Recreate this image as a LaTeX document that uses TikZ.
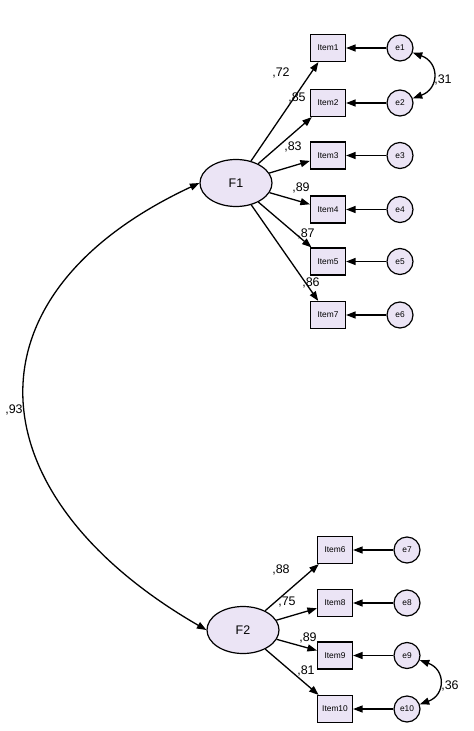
\documentclass[tikz,border=0pt]{standalone}
\usepackage{fontspec}
\setmainfont{Liberation Sans}
\usetikzlibrary{arrows.meta,shapes.geometric}
\definecolor{amosfill}{RGB}{235,228,245}

\begin{document}
\begin{tikzpicture}[x=1bp,y=1bp,
  lat/.style={ellipse,draw,line width=1.2bp,fill=amosfill,minimum width=72bp,minimum height=47bp,inner sep=0pt,font=\fontsize{12.5}{13}\selectfont},
  obs/.style={rectangle,draw,line width=1.2bp,fill=amosfill,minimum width=35bp,minimum height=27bp,inner sep=0pt,font=\fontsize{8.4}{9}\selectfont},
  err/.style={circle,draw,line width=1.2bp,fill=amosfill,minimum size=26bp,inner sep=0pt,font=\fontsize{8.4}{9}\selectfont},
  load/.style={line width=1.3bp,-{Triangle[length=9.5bp,width=7bp]}},
  cov/.style={line width=1.3bp,{Triangle[length=9.5bp,width=7bp]}-{Triangle[length=9.5bp,width=7bp]}},
  lbl/.style={font=\fontsize{12.5}{13}\selectfont,inner sep=0pt}]
\useasboundingbox (0,0) rectangle (474,-731);

\node[lat] (F1) at (236,-183) {F1};
\node[obs] (I1) at (328,-48) {Item1}; \node[err] (e1) at (400,-48) {e1};
\node[obs] (I2) at (328,-103) {Item2}; \node[err] (e2) at (400,-103) {e2};
\node[obs] (I3) at (328,-155.5) {Item3}; \node[err] (e3) at (400,-155.5) {e3};
\node[obs] (I4) at (328,-209.5) {Item4}; \node[err] (e4) at (400,-209.5) {e4};
\node[obs] (I5) at (328,-261.5) {Item5}; \node[err] (e5) at (400,-261.5) {e5};
\node[obs] (I7) at (328,-315) {Item7}; \node[err] (e6) at (400,-315) {e6};

\node[lat] (F2) at (243,-630) {F2};
\node[obs] (I6) at (335,-550) {Item6}; \node[err] (e7) at (407,-550) {e7};
\node[obs] (I8) at (335,-603) {Item8}; \node[err] (e8) at (407,-603) {e8};
\node[obs] (I9) at (335,-655.5) {Item9}; \node[err] (e9) at (407,-655.5) {e9};
\node[obs] (I10) at (335,-709) {Item10}; \node[err] (e10) at (407,-709) {e10};

\draw[load] (F1)--(I1); \draw[load] (F1)--(I2); \draw[load] (F1)--(I3);
\draw[load] (F1)--(I4); \draw[load] (F1)--(I5); \draw[load] (F1)--(I7);
\draw[load] (F2)--(I6); \draw[load] (F2)--(I8); \draw[load] (F2)--(I9); \draw[load] (F2)--(I10);
\draw[load] (e1)--(I1); \draw[load] (e2)--(I2); \draw[load] (e3)--(I3);
\draw[load] (e4)--(I4); \draw[load] (e5)--(I5); \draw[load] (e6)--(I7);
\draw[load] (e7)--(I6); \draw[load] (e8)--(I8); \draw[load] (e9)--(I9); \draw[load] (e10)--(I10);

\draw[cov] (e1) to[out=-20,in=20,looseness=1.6] (e2);
\draw[cov] (e9) to[out=-20,in=20,looseness=1.6] (e10);
\draw[cov] (F1.west) to[out=205,in=150,looseness=1.53] (F2.west);

\node[lbl] (l72) at (281,-73) {,72};
\node[lbl] (l85) at (297,-98) {,85};
\node[lbl] (l83) at (293,-147) {,83};
\node[lbl] (l89a) at (301,-188) {,89};
\node[lbl] (l87) at (306,-234) {,87};
\node[lbl] (l86) at (311,-283) {,86};
\node[lbl] (l88) at (281,-570) {,88};
\node[lbl] (l75) at (287,-602) {,75};
\node[lbl] (l89b) at (308,-638) {,89};
\node[lbl] (l81) at (306,-671) {,81};
\node[lbl] (l31) at (443,-80) {,31};
\node[lbl] (l36) at (450,-686) {,36};
\node[lbl] (l93) at (14,-410) {,93};
\end{tikzpicture}
\end{document}
